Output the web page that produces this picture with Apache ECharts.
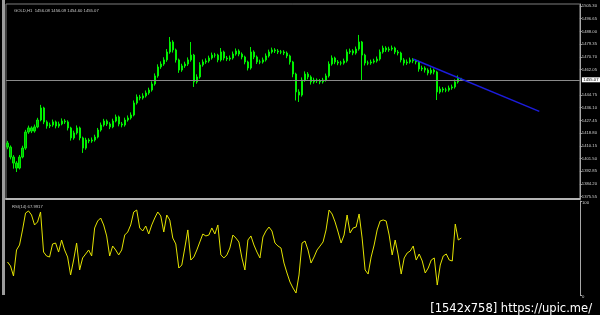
<!DOCTYPE html>
<html><head><meta charset="utf-8">
<script src="https://cdn.jsdelivr.net/npm/echarts@6/dist/echarts.min.js"></script>
<style>html,body{margin:0;padding:0;background:#000;overflow:hidden}#c{width:600px;height:315px}</style>
</head><body><div id="c"></div>
<script>
const opens=[1412.0,1409.3,1402.5,1398.4,1395.0,1402.5,1408.6,1419.5,1422.3,1420.2,1423.0,1427.7,1435.9,1426.4,1423.6,1424.3,1426.4,1423.6,1425.0,1427.0,1426.4,1422.3,1415.5,1418.9,1422.3,1415.5,1408.6,1414.1,1413.4,1414.1,1416.1,1420.9,1424.3,1427.0,1425.0,1423.0,1427.0,1429.8,1425.0,1424.3,1427.7,1429.1,1431.1,1439.3,1443.4,1442.7,1444.1,1446.1,1448.1,1452.2,1457.7,1463.8,1465.8,1468.6,1474.0,1480.8,1475.4,1468.6,1461.7,1464.5,1465.8,1468.6,1471.9,1453.6,1457.0,1465.2,1467.2,1467.9,1469.9,1471.9,1471.9,1468.6,1474.0,1469.9,1469.2,1469.9,1472.6,1474.7,1472.6,1470.6,1467.2,1463.1,1474.0,1470.6,1467.2,1467.2,1468.6,1471.3,1474.0,1475.4,1474.7,1474.0,1474.0,1473.3,1471.3,1467.2,1459.0,1446.8,1444.7,1454.9,1459.0,1457.0,1453.6,1454.9,1454.3,1453.6,1454.9,1457.7,1465.8,1469.9,1467.2,1466.5,1466.5,1467.9,1474.0,1474.7,1473.3,1476.0,1480.8,1471.9,1466.5,1466.5,1467.2,1467.9,1469.2,1474.0,1476.7,1475.4,1476.0,1476.7,1474.0,1473.3,1468.6,1466.5,1467.2,1468.6,1467.9,1467.2,1462.4,1463.1,1461.7,1459.7,1461.7,1460.4,1446.8,1448.8,1448.1,1448.1,1449.5,1450.2,1453.6,1456.08];
const closes=[1409.3,1402.5,1398.4,1395.0,1402.5,1408.6,1419.5,1422.3,1420.2,1423.0,1427.7,1435.9,1426.4,1423.6,1424.3,1426.4,1423.6,1425.0,1427.0,1426.4,1422.3,1415.5,1418.9,1422.3,1415.5,1408.6,1414.1,1413.4,1414.1,1416.1,1420.9,1424.3,1427.0,1425.0,1423.0,1427.0,1429.8,1425.0,1424.3,1427.7,1429.1,1431.1,1439.3,1443.4,1442.7,1444.1,1446.1,1448.1,1452.2,1457.7,1463.8,1465.8,1468.6,1474.0,1480.8,1475.4,1468.6,1461.7,1464.5,1465.8,1468.6,1471.9,1453.6,1457.0,1465.2,1467.2,1467.9,1469.9,1471.9,1471.9,1468.6,1474.0,1469.9,1469.2,1469.9,1472.6,1474.7,1472.6,1470.6,1467.2,1463.1,1474.0,1470.6,1467.2,1467.2,1468.6,1471.3,1474.0,1475.4,1474.7,1474.0,1474.0,1473.3,1471.3,1467.2,1459.0,1446.8,1444.7,1454.9,1459.0,1457.0,1453.6,1454.9,1454.3,1453.6,1454.9,1457.7,1465.8,1469.9,1467.2,1466.5,1466.5,1467.9,1474.0,1474.7,1473.3,1476.0,1480.8,1471.9,1466.5,1466.5,1467.2,1467.9,1469.2,1474.0,1476.7,1475.4,1476.0,1476.7,1474.0,1473.3,1468.6,1466.5,1467.2,1468.6,1467.9,1467.2,1462.4,1463.1,1461.7,1459.7,1461.7,1460.4,1446.8,1448.8,1448.1,1448.1,1449.5,1450.2,1453.6,1456.3,1455.07];
const lows=[1407.8,1400.9,1394.6,1392.3,1394.1,1401.6,1407.4,1418.3,1418.8,1419.1,1422.1,1426.8,1424.9,1421.8,1422.2,1423.1,1422.0,1422.4,1424.1,1425.0,1420.6,1413.7,1414.3,1417.8,1413.9,1405.3,1407.5,1411.9,1412.2,1413.0,1415.2,1419.8,1423.2,1423.6,1421.5,1422.1,1426.1,1423.4,1422.7,1423.2,1426.6,1428.0,1430.2,1438.2,1441.1,1441.6,1443.0,1444.9,1447.0,1451.1,1456.5,1462.5,1464.6,1467.3,1472.8,1473.6,1466.8,1459.8,1460.5,1463.2,1464.5,1467.4,1450.2,1452.4,1455.9,1464.0,1465.9,1466.7,1468.8,1470.2,1467.0,1467.5,1468.3,1467.8,1468.0,1468.8,1471.5,1471.1,1469.0,1465.6,1461.4,1462.0,1469.1,1465.8,1465.7,1466.1,1467.5,1470.2,1472.9,1473.3,1472.6,1472.5,1471.9,1469.8,1465.4,1456.8,1441.0,1440.0,1443.6,1453.7,1455.4,1451.8,1452.4,1452.9,1452.1,1452.5,1453.8,1456.6,1464.7,1465.7,1465.0,1464.9,1465.4,1466.8,1472.6,1471.8,1472.2,1474.9,1454.9,1464.8,1465.0,1465.3,1466.1,1466.8,1468.1,1472.9,1474.0,1474.1,1474.8,1472.5,1471.7,1466.9,1464.8,1465.2,1466.1,1466.4,1465.6,1460.6,1461.0,1460.0,1458.1,1458.6,1458.8,1441.3,1445.6,1446.5,1446.6,1447.0,1448.3,1449.1,1452.5,1454.60];
const highs=[1413.5,1410.4,1403.8,1399.7,1403.9,1410.2,1421.0,1423.9,1423.4,1424.6,1429.2,1438.0,1436.7,1427.5,1425.9,1428.0,1427.3,1426.6,1428.8,1428.3,1427.5,1423.1,1420.4,1424.0,1423.2,1416.4,1415.6,1415.3,1415.8,1417.7,1422.3,1426.0,1428.5,1428.1,1426.2,1428.6,1431.4,1430.7,1426.4,1429.3,1430.8,1432.9,1441.0,1445.1,1444.8,1445.9,1447.8,1449.7,1454.0,1459.4,1465.6,1467.6,1470.4,1476.0,1484.2,1482.0,1476.3,1469.5,1466.0,1467.4,1470.3,1480.8,1472.7,1458.8,1467.0,1468.9,1469.6,1471.5,1473.6,1473.4,1472.8,1476.7,1474.9,1471.3,1471.6,1474.3,1476.4,1475.8,1473.7,1471.5,1468.1,1477.4,1475.1,1471.6,1468.8,1470.2,1473.0,1475.6,1477.0,1476.6,1476.0,1475.4,1475.2,1474.4,1472.2,1468.0,1459.9,1448.6,1456.7,1460.8,1460.3,1458.1,1456.5,1456.0,1455.6,1456.4,1459.3,1467.6,1471.7,1470.8,1468.5,1468.0,1469.5,1475.8,1476.3,1475.9,1477.7,1485.6,1481.5,1472.8,1468.1,1468.8,1469.4,1470.9,1475.7,1478.3,1477.9,1477.6,1478.4,1477.6,1475.3,1474.2,1469.8,1468.9,1470.2,1469.8,1469.0,1468.1,1464.7,1464.2,1462.9,1463.4,1462.8,1461.2,1450.5,1450.1,1449.7,1451.1,1451.8,1455.3,1458.0,1456.09];
const rsiValues=[35.1,30.9,20.2,47.9,53.2,69.2,87.2,89.4,85.1,74.5,77.7,88.3,45.7,41.5,40.4,54.3,55.3,45.7,58.5,47.9,40.4,21.3,37.2,55.3,26.6,39.4,43.6,47.9,41.5,71.3,78.7,81.9,74.5,62.8,41.5,52.1,47.9,42.6,47.9,63.8,67.0,74.5,88.3,90.4,71.3,68.1,73.4,64.9,74.5,81.9,88.3,84.1,67.0,85.1,79.8,60.6,54.3,28.7,31.9,50.0,69.2,37.2,40.4,47.9,56.4,64.9,62.8,63.8,71.3,64.9,74.5,42.6,39.4,42.6,50.0,63.8,60.6,56.4,39.4,26.6,58.5,62.8,53.2,45.7,39.4,61.7,68.1,72.3,68.1,55.3,52.1,50.0,34.0,23.4,13.8,7.4,2.1,21.3,55.3,57.4,47.9,34.0,40.4,47.9,52.1,56.4,69.2,90.4,86.2,77.7,67.0,55.3,63.8,85.1,66.0,71.3,72.3,86.2,60.6,26.6,22.3,40.4,53.2,69.2,78.7,79.8,78.7,63.8,42.6,58.5,42.6,22.3,39.4,44.7,46.8,52.1,37.2,43.6,36.2,23.4,28.7,37.2,39.4,10.6,31.9,41.5,43.6,37.2,36.2,75.5,58.5,60.6];
const priceTicks=[1505.30,1496.65,1488.00,1479.35,1470.70,1462.05,1444.75,1436.10,1427.45,1418.80,1410.15,1401.50,1392.85,1384.20,1375.55];
const rsiTicks=[0,100];
const trendLine=[[135,1469.2],[177,1433.6]];
const bidPrice=1455.07;
const titleText='GOLD,H1  1456.08 1456.09 1454.60 1455.07';
const rsiText='RSI(14) 67.9917';
const watermark='[1542x758] https://upic.me/';
const slotCount=191;
const categories=Array.from({length:slotCount},(_,i)=>String(i));

const candleData=opens.map((o,i)=>[o,closes[i],lows[i],highs[i]]);
const chart=echarts.init(document.getElementById('c'),null,{renderer:'canvas'});
const axisGrey='#a8a8a8';
const lblFont={fontSize:4.2,color:'#d0d0d0',fontFamily:'Liberation Sans'};
chart.setOption({
  backgroundColor:'#000',
  animation:false,
  title:[
    {text:titleText,left:9,top:3.5,textStyle:{fontSize:4.2,color:'#c8c8c8',fontWeight:'normal',fontFamily:'Liberation Sans'}},
    {text:rsiText,left:7,top:200,textStyle:{fontSize:4.2,color:'#c8c8c8',fontWeight:'normal',fontFamily:'Liberation Sans'}},
    {text:watermark,right:3,top:298,textStyle:{fontSize:11.5,color:'#ffffff',fontWeight:'normal',fontFamily:'DejaVu Sans'}}
  ],
  graphic:[{type:'rect',shape:{x:2,y:0,width:3,height:295},style:{fill:'#9c9c9c'}}],
  grid:[
    {left:6,right:20,top:4,height:195,show:true,borderColor:'#7c7c7c',borderWidth:1,backgroundColor:'transparent'},
    {left:6,right:20,top:201,height:94}
  ],
  xAxis:[
    {type:'category',gridIndex:0,data:categories,boundaryGap:true,axisLine:{show:true,lineStyle:{color:'#b4b4b4',width:2}},axisTick:{show:false},axisLabel:{show:false},splitLine:{show:false}},
    {type:'category',gridIndex:1,data:categories,boundaryGap:true,axisLine:{show:false},axisTick:{show:false},axisLabel:{show:false},splitLine:{show:false}}
  ],
  yAxis:[
    {type:'value',gridIndex:0,position:'right',min:1373.94,max:1506.66,scale:true,
     axisLine:{show:true,lineStyle:{color:axisGrey,width:1}},
     axisTick:{show:true,length:2,inside:false,lineStyle:{color:axisGrey},customValues:priceTicks},
     axisLabel:Object.assign({show:true,margin:2,customValues:priceTicks,formatter:v=>v.toFixed(2)},lblFont),
     splitLine:{show:false}},
    {type:'value',gridIndex:1,position:'right',min:0,max:100,interval:100,
     axisLine:{show:true,lineStyle:{color:axisGrey,width:1}},
     axisTick:{show:true,length:2,lineStyle:{color:axisGrey}},
     axisLabel:Object.assign({show:true,margin:2,verticalAlign:'top',formatter:v=>String(v)},lblFont),
     splitLine:{show:false}}
  ],
  series:[
    {type:'candlestick',xAxisIndex:0,yAxisIndex:0,data:candleData,barWidth:1.6,
     itemStyle:{color:'#00b400',color0:'#00b400',borderColor:'#00f000',borderColor0:'#00f000',borderWidth:1},
     markLine:{silent:true,symbol:['none','none'],animation:false,
       lineStyle:{color:'#8a8a8a',type:'solid',width:1},
       label:{show:true,position:'end',distance:2,formatter:bidPrice.toFixed(2),backgroundColor:'#ffffff',color:'#000000',fontSize:4.2,padding:[0.5,1.5],fontFamily:'Liberation Sans'},
       data:[{yAxis:bidPrice}]}},
    {type:'line',xAxisIndex:0,yAxisIndex:0,data:trendLine,symbol:'none',lineStyle:{color:'#1c1cdc',width:1.5},z:5},
    {type:'line',xAxisIndex:1,yAxisIndex:1,data:rsiValues,symbol:'none',lineStyle:{color:'#e4e400',width:1}}
  ]
});
</script></body></html>
